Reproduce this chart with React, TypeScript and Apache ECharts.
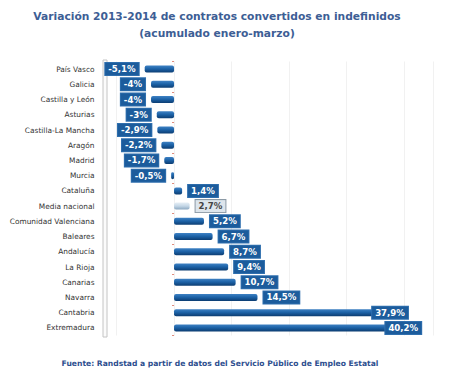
import React, { useEffect, useRef } from "react";
import * as echarts from "echarts";

const titleLines = [
  "Variación 2013-2014 de contratos convertidos en indefinidos",
  "(acumulado enero-marzo)",
];
const sourceText =
  "Fuente: Randstad a partir de datos del Servicio Público de Empleo Estatal";

const regions = [
  "País Vasco",
  "Galicia",
  "Castilla y León",
  "Asturias",
  "Castilla-La Mancha",
  "Aragón",
  "Madrid",
  "Murcia",
  "Cataluña",
  "Media nacional",
  "Comunidad Valenciana",
  "Baleares",
  "Andalucía",
  "La Rioja",
  "Canarias",
  "Navarra",
  "Cantabria",
  "Extremadura",
];
const variation = [
  -5.1, -4, -4, -3, -2.9, -2.2, -1.7, -0.5, 1.4, 2.7, 5.2, 6.7, 8.7, 9.4, 10.7,
  14.5, 37.9, 40.2,
];
const highlighted = "Media nacional";

const fmt = (v: number) => String(v).replace(".", ",") + "%";

export default function App() {
  const ref = useRef<HTMLDivElement>(null);
  useEffect(() => {
    if (!ref.current) return;
    const chart = echarts.init(ref.current, undefined, { renderer: "svg" });
    const font = "'DejaVu Sans', Verdana, sans-serif";
    const darkGrad = new echarts.graphic.LinearGradient(0, 0, 0, 1, [
      { offset: 0, color: "#3f82c4" },
      { offset: 0.45, color: "#1d63a8" },
      { offset: 1, color: "#0c3d72" },
    ]);
    const lightGrad = new echarts.graphic.LinearGradient(0, 0, 0, 1, [
      { offset: 0, color: "#e6eef5" },
      { offset: 0.5, color: "#c3d6e6" },
      { offset: 1, color: "#8aa6bf" },
    ]);
    const data = variation.map((v, i) => {
      const isHi = regions[i] === highlighted;
      const big = v > 30;
      return {
        value: v,
        itemStyle: {
          color: isHi ? lightGrad : darkGrad,
          borderRadius: 2,
        },
        label: {
          show: true,
          position: v < 0 ? "left" : "right",
          offset: big ? [-26, 0] : [0, 0],
          distance: 6,
          formatter: () => fmt(v),
          fontFamily: font,
          fontWeight: "bold",
          fontSize: 8.6,
          color: isHi ? "#444" : "#ffffff",
          backgroundColor: isHi ? "#dde5ec" : "#1c5c9c",
          borderColor: isHi ? "#8c9aa6" : "#2f6fae",
          borderWidth: 1,
          padding: [2, 3, 1, 3],
        },
      };
    });
    chart.setOption({
      animation: false,
      backgroundColor: "#ffffff",
      graphic: [
        {
          type: "rect",
          shape: { x: 103, y: 60, width: 4, height: 277 },
          style: { fill: "#fbfbfb", stroke: "#c4c4c4", lineWidth: 1 },
          z: -1,
        },
        {
          type: "text",
          x: 217,
          y: 16,
          style: {
            text: titleLines[0],
            textAlign: "center",
            textVerticalAlign: "middle",
            font: `bold 10.7px ${font}`,
            fill: "#3d5e95",
          },
        },
        {
          type: "text",
          x: 217,
          y: 33,
          style: {
            text: titleLines[1],
            textAlign: "center",
            textVerticalAlign: "middle",
            font: `bold 10.7px ${font}`,
            fill: "#3d5e95",
          },
        },
        {
          type: "text",
          x: 220,
          y: 363,
          style: {
            text: sourceText,
            textAlign: "center",
            textVerticalAlign: "middle",
            font: `bold 7.6px ${font}`,
            fill: "#2e4f8f",
          },
        },
      ],
      grid: { left: 116.5, right: 17, top: 61.5, bottom: 47.5 },
      xAxis: {
        type: "value",
        min: -10,
        max: 45,
        interval: 10,
        axisLabel: { show: false },
        axisLine: { show: false },
        axisTick: { show: false },
        splitLine: { show: true, lineStyle: { color: "#f1f1f1", width: 1 } },
      },
      yAxis: [
        {
          type: "category",
          data: regions,
          inverse: true,
          position: "left",
          axisLine: { show: false, onZero: false },
          axisTick: { show: false },
          axisLabel: {
            fontFamily: font,
            fontSize: 7.4,
            color: "#333333",
            margin: 22,
          },
        },
        {
          type: "category",
          data: regions,
          inverse: true,
          position: "left",
          axisLine: { show: false, onZero: true },
          axisTick: {
            show: true,
            length: 2,
            lineStyle: { color: "#e08a7a", width: 1 },
          },
          axisLabel: { show: false },
        },
      ],
      series: [
        {
          type: "bar",
          data,
          barWidth: 7,
          yAxisIndex: 0,
        },
      ],
    });
    return () => chart.dispose();
  }, []);
  return (
    <div
      ref={ref}
      style={{ position: "absolute", left: 0, top: 0, width: 450, height: 383 }}
    />
  );
}
